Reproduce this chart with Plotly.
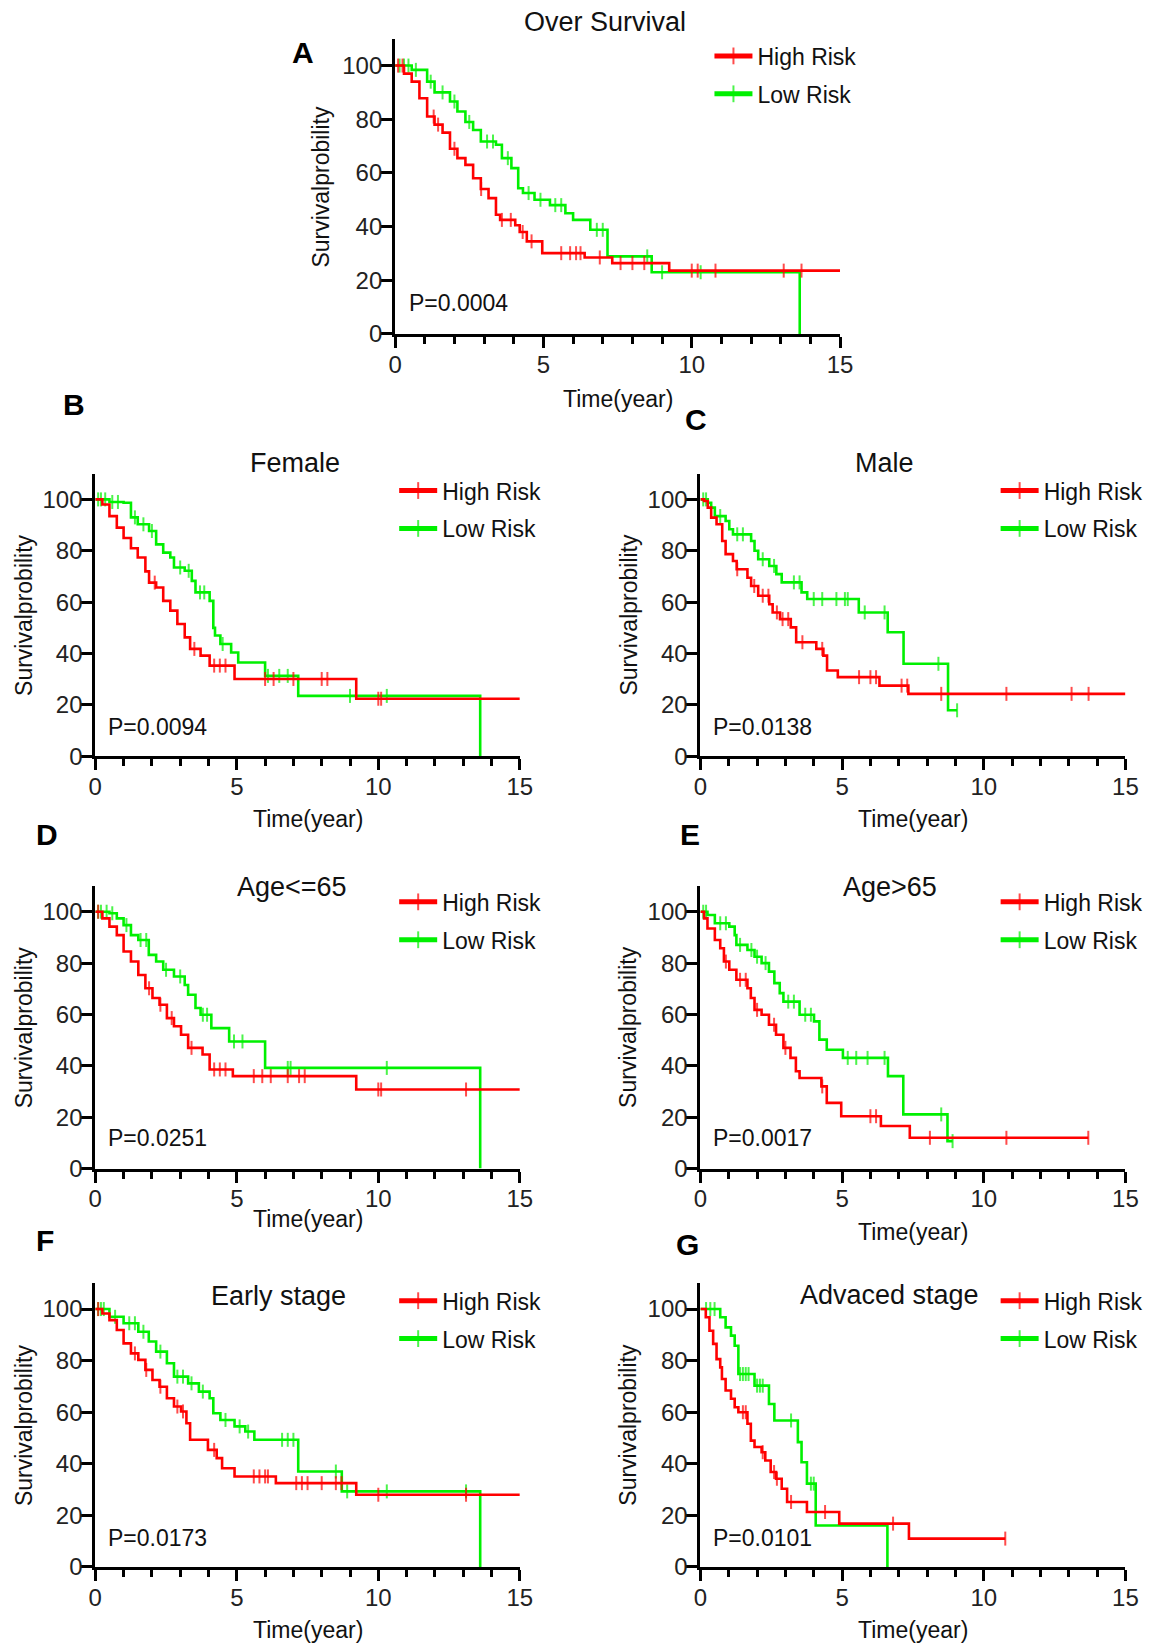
import numpy as np
import plotly.graph_objects as go

# ---------------- data: time (years) / survival (%) ----------------
# Panel A - Over Survival
A_high_t = [0, 0.3, 0.56, 0.82, 1.08, 1.33, 1.6, 1.85, 2.1, 2.37, 2.63, 2.89, 3.15, 3.4, 3.54, 4.05, 4.2, 4.44, 4.96, 6.39, 7.32, 9.24]
A_high_s = [100, 97, 94, 87.8, 81, 78, 75, 69, 65.5, 63, 58, 54, 50.6, 44.4, 42.5, 40.5, 38, 34.5, 30.1, 28.5, 26.4, 23.6]
A_high_end = 15
A_high_cens = [0.1, 0.25, 1.3, 1.45, 2.0, 2.9, 3.6, 3.9, 4.3, 4.6, 5.6, 5.9, 6.1, 6.25, 6.9, 7.6, 8.0, 8.4, 10.0, 10.2, 10.8, 13.1, 13.7]
A_low_t = [0, 0.56, 1.08, 1.33, 1.85, 2.1, 2.37, 2.63, 2.89, 3.4, 3.6, 3.92, 4.15, 4.31, 4.7, 5.22, 5.74, 6.0, 6.58, 7.16, 8.65, 13.64]
A_low_s = [100, 98.4, 94, 90, 86.6, 82.9, 79, 76, 71.7, 70.5, 65.5, 61.8, 54.3, 52.5, 50, 48, 45, 42.5, 38.8, 28.9, 23, 0]
A_low_end = 13.64
A_low_cens = [0.15, 0.3, 0.45, 0.7, 1.2, 1.6, 2.0, 2.5, 3.1, 3.3, 3.8, 4.5, 4.9, 5.4, 5.6, 6.8, 7.0, 8.5, 9.0, 10.3]

# Panel B - Female
B_high_t = [0, 0.25, 0.5, 0.76, 1.0, 1.26, 1.5, 1.77, 1.9, 2.15, 2.4, 2.65, 2.9, 3.16, 3.35, 3.72, 4.04, 4.92, 9.22]
B_high_s = [100, 98, 93.5, 89, 85, 81, 77.4, 72, 67.6, 65.7, 60.5, 56.7, 51.5, 46.3, 41.8, 39.2, 35.3, 30.1, 22.4]
B_high_end = 15
B_high_cens = [2.1, 3.5, 4.2, 4.4, 4.6, 6.0, 6.3, 7.0, 8.0, 8.2, 10.0, 10.1]
B_low_t = [0, 0.5, 1.0, 1.26, 1.5, 1.9, 2.15, 2.4, 2.65, 2.78, 3.16, 3.41, 3.54, 4.04, 4.17, 4.23, 4.42, 4.8, 5.05, 6.0, 7.17, 13.6]
B_low_s = [100, 99, 98.7, 93, 90.3, 87.7, 82.5, 79.3, 77.4, 73.5, 72.2, 68.3, 63.8, 60.5, 50, 47, 43.7, 40.4, 36.5, 31.3, 23.5, 0]
B_low_end = 13.6
B_low_cens = [0.1, 0.2, 0.35, 0.6, 0.8, 1.4, 1.7, 2.0, 3.0, 3.3, 3.7, 3.85, 4.5, 6.1, 6.5, 6.8, 9.0, 10.3]

# Panel C - Male
C_high_t = [0, 0.13, 0.26, 0.38, 0.57, 0.77, 0.89, 1.15, 1.28, 1.66, 1.79, 2.04, 2.43, 2.55, 2.81, 3.19, 3.38, 4.09, 4.34, 4.47, 4.85, 6.32, 7.34]
C_high_s = [100, 99.4, 96.8, 92.9, 90.3, 83.8, 78.7, 76, 72.8, 69.5, 66.3, 62.5, 59.2, 56, 53.4, 50.2, 44.4, 41.8, 39.2, 33.4, 30.8, 27.5, 24.3]
C_high_end = 15
C_high_cens = [1.3, 1.9, 2.2, 2.4, 2.7, 2.9, 3.1, 3.6, 4.3, 5.6, 6.0, 6.2, 7.1, 7.3, 8.5, 10.8, 13.1, 13.7]
C_low_t = [0, 0.26, 0.38, 0.51, 0.89, 1.02, 1.15, 1.79, 1.91, 2.04, 2.43, 2.68, 2.87, 3.57, 3.77, 5.59, 6.61, 7.17, 8.74]
C_low_s = [100, 98.7, 96.8, 93.5, 91.6, 88.4, 86.4, 83.8, 80, 76.7, 74.1, 70.9, 67.7, 63.8, 61.2, 56, 48.3, 36, 17.9]
C_low_end = 9.06
C_low_cens = [0.1, 0.2, 0.7, 1.3, 1.5, 2.2, 2.6, 3.3, 3.5, 4.0, 4.3, 4.8, 5.1, 5.2, 5.8, 6.5, 8.4, 9.06]

# Panel D - Age<=65
D_high_t = [0, 0.25, 0.5, 0.76, 1.0, 1.26, 1.52, 1.77, 2.02, 2.27, 2.53, 2.78, 3.03, 3.28, 3.79, 4.04, 4.86, 9.22]
D_high_s = [100, 97.4, 94.2, 90.9, 84.5, 80.6, 75.4, 70.2, 66.4, 63.8, 58.6, 55.4, 52.1, 47, 44.4, 38.6, 36, 30.8]
D_high_end = 15
D_high_cens = [0.1, 1.9, 2.3, 2.7, 3.4, 4.2, 4.4, 4.6, 5.6, 5.9, 6.2, 6.8, 7.2, 7.4, 10.0, 10.1, 13.1]
D_low_t = [0, 0.5, 0.76, 1.0, 1.26, 1.52, 1.89, 2.15, 2.4, 2.78, 3.16, 3.28, 3.54, 3.72, 4.1, 4.73, 6.0, 13.6]
D_low_s = [100, 99.4, 97.4, 94.8, 90.9, 89, 83.2, 80.6, 77.4, 74.8, 71.5, 67.7, 62.5, 59.9, 54.7, 49.5, 39.2, 0]
D_low_end = 13.6
D_low_cens = [0.1, 0.2, 0.4, 0.6, 1.1, 1.6, 1.8, 2.5, 3.0, 3.8, 3.95, 4.9, 5.2, 6.8, 6.9, 10.3]

# Panel E - Age>65
E_high_t = [0, 0.13, 0.25, 0.51, 0.7, 0.83, 1.02, 1.27, 1.66, 1.78, 1.91, 2.16, 2.42, 2.67, 2.93, 3.18, 3.37, 3.5, 4.27, 4.46, 4.97, 6.37, 7.39]
E_high_s = [100, 97.4, 93.5, 89, 85.8, 80.6, 77.4, 73.5, 70.2, 66.4, 61.8, 59.9, 56, 52.1, 47, 43.1, 37.9, 35.3, 32, 25.6, 20.4, 16.6, 12]
E_high_end = 13.69
E_high_cens = [0.9, 1.4, 1.6, 2.0, 2.6, 3.0, 4.3, 6.0, 6.2, 8.1, 10.8, 13.69]
E_low_t = [0, 0.25, 0.51, 1.02, 1.21, 1.27, 1.66, 1.91, 2.16, 2.42, 2.61, 2.8, 2.93, 3.5, 4.01, 4.2, 4.46, 5.03, 6.62, 7.16, 8.72]
E_low_s = [100, 98.7, 95.5, 94.2, 90.9, 87.1, 85.1, 82.5, 80, 76.7, 72.2, 68.3, 65, 59.9, 57.3, 50.2, 46.3, 43.1, 36, 21.1, 10.7]
E_low_end = 8.9
E_low_cens = [0.1, 0.2, 0.7, 0.9, 1.4, 1.8, 2.0, 2.3, 3.1, 3.3, 3.7, 3.9, 5.2, 5.5, 5.9, 6.5, 8.5, 8.9]

# Panel F - Early stage
F_high_t = [0, 0.25, 0.5, 0.76, 1.0, 1.26, 1.52, 1.77, 2.02, 2.27, 2.53, 2.78, 3.03, 3.22, 3.35, 3.98, 4.29, 4.48, 4.92, 6.38, 9.22]
F_high_s = [100, 98.3, 95.7, 91.9, 86.7, 82.8, 80.3, 76.4, 72.5, 69.9, 65.4, 62.2, 60.3, 55.7, 49.3, 45.4, 42.2, 38.3, 35.1, 32.5, 28]
F_high_end = 15
F_high_cens = [0.1, 1.4, 1.8, 2.3, 2.9, 3.1, 4.2, 5.6, 5.8, 6.0, 6.1, 7.1, 7.3, 7.5, 8.0, 8.5, 8.7, 10.0, 13.1]
F_low_t = [0, 0.5, 1.0, 1.52, 1.89, 2.15, 2.53, 2.78, 3.28, 3.66, 4.04, 4.17, 4.42, 4.92, 5.3, 5.62, 7.17, 8.71, 13.6]
F_low_s = [100, 97, 94.5, 91.2, 87.4, 83.5, 79, 73.8, 71.2, 68, 65.4, 59.6, 57, 54.5, 52.5, 49.3, 37, 29.3, 0]
F_low_end = 13.6
F_low_cens = [0.1, 0.2, 0.3, 0.7, 1.2, 1.4, 1.7, 2.3, 2.9, 3.1, 3.4, 3.8, 4.6, 5.1, 5.4, 6.6, 6.8, 7.0, 8.5, 8.9, 10.3, 13.1]

# Panel G - Advaced stage
G_high_t = [0, 0.19, 0.32, 0.45, 0.57, 0.7, 0.76, 0.89, 1.08, 1.21, 1.34, 1.66, 1.78, 1.91, 2.16, 2.29, 2.48, 2.67, 2.87, 3.06, 3.76, 4.9, 7.36]
G_high_s = [100, 96.8, 91.6, 86.5, 80.6, 77.4, 72.9, 68.4, 65.2, 61.9, 60, 55.5, 49, 46.5, 44.5, 41.3, 36.8, 34.2, 30.3, 25.2, 21.3, 16.8, 11]
G_high_end = 10.76
G_high_cens = [1.5, 1.6, 2.2, 2.6, 2.7, 3.2, 4.4, 6.8, 10.76]
G_low_t = [0, 0.7, 0.89, 1.08, 1.21, 1.34, 1.91, 2.42, 2.61, 3.44, 3.57, 3.76, 4.07, 6.6]
G_low_s = [100, 96.8, 92.9, 89.7, 85.8, 74.8, 70.3, 63.2, 56.8, 48.4, 40.6, 32.3, 16.1, 0]
G_low_end = 6.6
G_low_cens = [0.2, 0.35, 0.5, 1.4, 1.5, 1.6, 1.7, 2.0, 2.1, 2.2, 3.2, 3.9, 4.0]

panel_titles = ["Over Survival", "Female", "Male", "Age<=65", "Age>65", "Early stage", "Advaced stage"]
panel_letters = ["A", "B", "C", "D", "E", "F", "G"]
p_values = ["P=0.0004", "P=0.0094", "P=0.0138", "P=0.0251", "P=0.0017", "P=0.0173", "P=0.0101"]
series_names = ["High Risk", "Low Risk"]
x_ticks = [0, 5, 10, 15]
y_ticks = [0, 20, 40, 60, 80, 100]

curves = [
    ((A_high_t, A_high_s, A_high_end, A_high_cens), (A_low_t, A_low_s, A_low_end, A_low_cens)),
    ((B_high_t, B_high_s, B_high_end, B_high_cens), (B_low_t, B_low_s, B_low_end, B_low_cens)),
    ((C_high_t, C_high_s, C_high_end, C_high_cens), (C_low_t, C_low_s, C_low_end, C_low_cens)),
    ((D_high_t, D_high_s, D_high_end, D_high_cens), (D_low_t, D_low_s, D_low_end, D_low_cens)),
    ((E_high_t, E_high_s, E_high_end, E_high_cens), (E_low_t, E_low_s, E_low_end, E_low_cens)),
    ((F_high_t, F_high_s, F_high_end, F_high_cens), (F_low_t, F_low_s, F_low_end, F_low_cens)),
    ((G_high_t, G_high_s, G_high_end, G_high_cens), (G_low_t, G_low_s, G_low_end, G_low_cens)),
]

# ---------------- layout geometry ----------------
W, H = 1158, 1644
RED = "#ff0000"
GREEN = "#00f000"
FONT = "Liberation Sans, Arial, sans-serif"


# reference-pixel -> page-pixel calibration (compensates the capture scaling)
def cx(X):
    return (X - 4) / 0.985


def cy(Y):
    return (Y + 0.6) / 0.9925


def px(X):
    return cx(X) / W


def py(Y):
    return 1 - cy(Y) / H


# x0, x1 (axis ends), y of value 0, y of value 100 (reference pixels)
geom = [
    (393, 839, 333.5, 65),
    (92.5, 518, 756, 499),
    (699, 1125, 756, 499),
    (92.5, 518, 1168.5, 911.5),
    (699, 1125, 1168.5, 911.5),
    (92.5, 518, 1567, 1309),
    (699, 1125, 1567, 1309),
]
title_pos = [(603, 21), (293, 463), (884, 463), (290, 887), (889, 887), (276, 1296), (889, 1295)]
letter_pos = [(301, 52), (71, 404), (695, 419), (44, 834), (689, 834), (42, 1240), (686, 1244)]
p_pos = [(409, 303), (108, 727), (714, 727), (108, 1138), (714, 1138), (108, 1538), (714, 1538)]
legend_pos = [(713, 56.7), (397, 491.5), (1003, 491.5), (397, 903), (1003, 903), (397, 1302), (1003, 1302)]
xtitle_y = [399, 819, 819, 1219, 1232, 1630, 1630]
ytitle_x = [319, 21, 627, 21, 627, 21, 627]


def km_points(t, s, end, cens):
    t = np.asarray(t, float)
    s = np.asarray(s, float)
    xs = list(t) + [end]
    ys = list(s) + [s[-1]]
    sz = [0] * len(xs)
    for c in cens:
        i = np.searchsorted(t, c, side="right") - 1
        xs.append(c)
        ys.append(s[i])
        sz.append(10)
    order = np.argsort(np.asarray(xs), kind="stable")
    return (np.asarray(xs)[order], np.asarray(ys)[order], np.asarray(sz)[order])


fig = go.Figure()
annotations = []
layout = {}

for i in range(7):
    n = "" if i == 0 else str(i + 1)
    xa, ya = "x" + n, "y" + n
    leg = "legend" + n
    high, low = curves[i]
    for (name, color, data, rank) in [(series_names[1], GREEN, low, 2), (series_names[0], RED, high, 1)]:
        xs, ys, sz = km_points(*data)
        fig.add_trace(go.Scatter(
            x=xs, y=ys, mode="lines+markers", name=name,
            line=dict(color=color, width=2.6, shape="hv"),
            marker=dict(symbol="line-ns", size=sz, color=color, line=dict(color=color, width=2)),
            xaxis=xa, yaxis=ya, legend=leg, legendrank=rank,
            legendgroup=name + n, cliponaxis=True,
        ))

    x0, x1, yz, y100 = geom[i]
    ytop = yz - 1.1 * (yz - y100)
    layout["xaxis" + n] = dict(
        domain=[px(x0), px(x1)], anchor=ya, range=[0, 15],
        tickvals=x_ticks, ticks="outside", ticklen=11, tickwidth=3, tickcolor="black",
        minor=dict(dtick=1, tick0=0, ticks="outside", ticklen=7, tickwidth=2.5, tickcolor="black", showgrid=False),
        showline=True, linewidth=3, linecolor="black", showgrid=False, zeroline=False,
        tickfont=dict(size=24, color="#222", family=FONT), fixedrange=True,
        ticklabelstandoff=-4,
    )
    layout["yaxis" + n] = dict(
        domain=[py(yz), py(ytop)], anchor=xa, range=[0, 110],
        tickvals=y_ticks, ticks="outside", ticklen=11, tickwidth=3, tickcolor="black",
        showline=True, linewidth=3, linecolor="black", showgrid=False, zeroline=False,
        tickfont=dict(size=24, color="#222", family=FONT), fixedrange=True,
        ticklabelstandoff=-6,
    )
    lx, ly = legend_pos[i]
    leg_x = min(cx(lx) - 5, 1006)
    layout[leg] = dict(
        x=leg_x / W, y=1 - (cy(ly) - 23) / H, xanchor="left", yanchor="top",
        font=dict(size=23, color="#111", family=FONT), bgcolor="rgba(0,0,0,0)",
        tracegroupgap=5, itemwidth=38, traceorder="grouped", itemsizing="constant",
    )
    tx, ty = title_pos[i]
    annotations.append(dict(text=panel_titles[i], x=px(tx), y=py(ty), xref="paper", yref="paper",
                            showarrow=False, xanchor="center", yanchor="middle",
                            font=dict(size=27, color="#111", family=FONT)))
    ax_, ay_ = letter_pos[i]
    annotations.append(dict(text="<b>" + panel_letters[i] + "</b>", x=px(ax_), y=py(ay_), xref="paper", yref="paper",
                            showarrow=False, xanchor="center", yanchor="middle",
                            font=dict(size=30, color="#000", family=FONT)))
    p_x, p_y = p_pos[i]
    annotations.append(dict(text=p_values[i], x=(cx(p_x) - 4.6) / W, y=py(p_y), xref="paper", yref="paper",
                            showarrow=False, xanchor="left", yanchor="middle",
                            font=dict(size=23, color="#111", family=FONT)))
    annotations.append(dict(text="Time(year)", x=px((x0 + x1) / 2), y=py(xtitle_y[i]), xref="paper", yref="paper",
                            showarrow=False, xanchor="center", yanchor="middle",
                            font=dict(size=23, color="#111", family=FONT)))
    annotations.append(dict(text="Survivalprobility", x=px(ytitle_x[i]), y=py((yz + ytop) / 2), xref="paper", yref="paper",
                            showarrow=False, xanchor="center", yanchor="middle", textangle=-90,
                            font=dict(size=23, color="#111", family=FONT)))

fig.update_layout(**layout)
fig.update_layout(
    width=W, height=H, margin=dict(l=0, r=0, t=0, b=0),
    paper_bgcolor="white", plot_bgcolor="white",
    annotations=annotations, font=dict(family=FONT),
)

fig.write_html(
    "out.html",
    config={"displayModeBar": False},
    post_script=(
        "document.documentElement.style.overflow='hidden';"
        "document.body.style.margin='0';document.body.style.overflow='hidden';"
    ),
)
